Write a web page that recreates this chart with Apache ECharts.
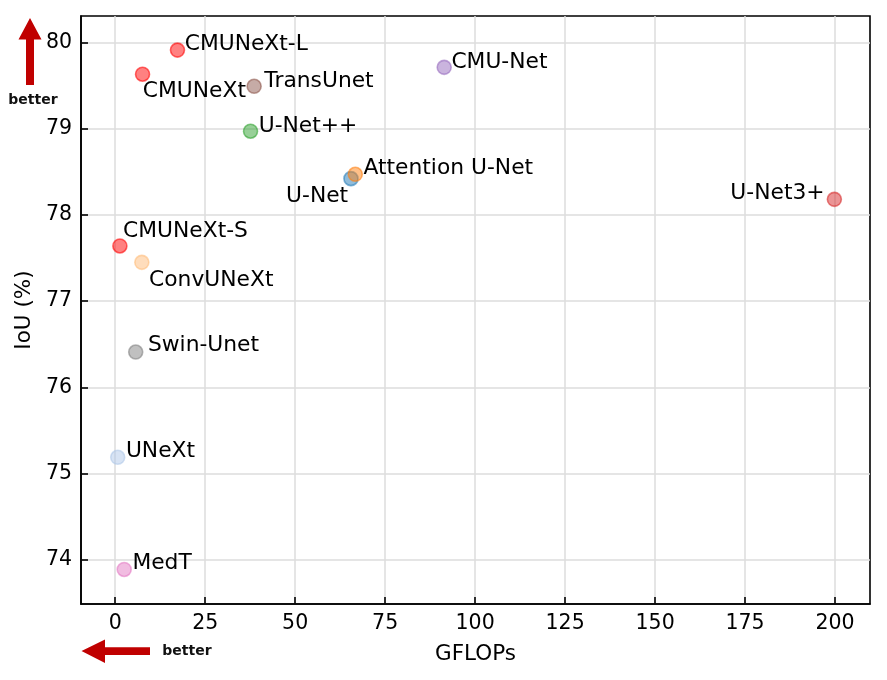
<!DOCTYPE html>
<html>
<head>
<meta charset="utf-8">
<script src="https://cdn.jsdelivr.net/npm/echarts@6/dist/echarts.min.js"></script>
<style>
html,body{margin:0;padding:0;background:#fff;}
#chart{width:887px;height:680px;}
</style>
</head>
<body>
<div id="chart"></div>
<script>
// ---- data ----
const models = ['CMUNeXt-L','CMUNeXt','CMUNeXt-S','TransUnet','U-Net++','CMU-Net','U-Net','Attention U-Net','U-Net3+','ConvUNeXt','Swin-Unet','UNeXt','MedT'];
const gflops = [17.3, 7.6, 1.3, 38.6, 37.6, 91.4, 65.5, 66.7, 199.8, 7.4, 5.7, 0.7, 2.5];
const iou    = [79.91, 79.63, 77.64, 79.49, 78.97, 79.71, 78.42, 78.47, 78.18, 77.45, 76.41, 75.19, 73.89];
const xTicks = [0, 25, 50, 75, 100, 125, 150, 175, 200];
const yTicks = [74, 75, 76, 77, 78, 79, 80];

// ---- styles (kept separate from data) ----
const colors = ['#ff0000','#ff0000','#ff0000','#8c564b','#2ca02c','#9467bd','#1f77b4','#ff7f0e','#d62728','#ffbb78','#7f7f7f','#aec7e8','#e377c2'];
// label offsets: [dx, dy, align] relative to marker centre
const labelOffsets = [
  [8,-4.5,'left'], [1,18,'left'], [4,-14,'left'], [11,-4.5,'left'], [9,-4.5,'left'],
  [8,-4.5,'left'], [-2,18,'right'], [9,-5.5,'left'], [-9,-5.5,'right'], [8,19,'left'],
  [13,-5.5,'left'], [9,-5.5,'left'], [9,-5.5,'left']
];

const FONT = 'DejaVu Sans';
const SYM = 14;

function rgba(hex, a) {
  const n = parseInt(hex.slice(1), 16);
  return 'rgba(' + ((n >> 16) & 255) + ',' + ((n >> 8) & 255) + ',' + (n & 255) + ',' + a + ')';
}

const seriesData = models.map((m, i) => ({
  name: m,
  value: [gflops[i], iou[i]],
  itemStyle: { color: rgba(colors[i], 0.62), borderColor: rgba(colors[i], 0.7), borderWidth: 1.6 },
  label: {
    show: true,
    formatter: m,
    position: [SYM/2 + labelOffsets[i][0], SYM/2 + labelOffsets[i][1]],
    align: labelOffsets[i][2],
    verticalAlign: 'middle',
    color: '#000',
    opacity: 1,
    textBorderWidth: 0,
    textShadowBlur: 0,
    fontFamily: FONT,
    fontSize: 21.8
  }
}));

const chart = echarts.init(document.getElementById('chart'), null, {renderer: 'canvas'});
chart.setOption({
  animation: false,
  backgroundColor: '#fff',
  grid: { left: 81, right: 17, top: 16, bottom: 76, show: true, borderColor: '#000', borderWidth: 1.6, backgroundColor: 'transparent' },
  xAxis: {
    type: 'value', min: -9.5, max: 209.7,
    name: 'GFLOPs', nameLocation: 'middle', nameGap: 39,
    nameTextStyle: { fontFamily: FONT, fontSize: 21.5, color: '#000' },
    axisLine: { show: true, onZero: false, lineStyle: { color: '#000', width: 1.6 } },
    axisTick: { show: true, inside: true, length: 7, lineStyle: { color: '#000', width: 1.6 }, customValues: xTicks },
    axisLabel: { fontFamily: FONT, fontSize: 20.5, color: '#000', margin: 9, customValues: xTicks },
    splitLine: { show: true, lineStyle: { color: '#dcdcdc', width: 1.5 } }
  },
  yAxis: {
    type: 'value', min: 73.49, max: 80.305,
    name: 'IoU (%)', nameLocation: 'middle', nameGap: 46,
    nameTextStyle: { fontFamily: FONT, fontSize: 21.5, color: '#000' },
    axisLine: { show: true, onZero: false, lineStyle: { color: '#000', width: 1.6 } },
    axisTick: { show: true, inside: true, length: 7, lineStyle: { color: '#000', width: 1.6 }, customValues: yTicks },
    axisLabel: { fontFamily: FONT, fontSize: 20.5, color: '#000', margin: 9, customValues: yTicks },
    splitLine: { show: true, lineStyle: { color: '#dcdcdc', width: 1.5 } }
  },
  series: [{
    type: 'scatter',
    symbol: 'circle',
    symbolSize: SYM,
    data: seriesData,
    emphasis: { disabled: true }
  }],
  graphic: [
    { type: 'polygon', silent: true, shape: { points: [[30,18],[41.5,39.5],[34,39.5],[34,85],[26,85],[26,39.5],[18.5,39.5]] }, style: { fill: '#c00000' } },
    { type: 'text', silent: true, style: { text: 'better', x: 33, y: 100.5, align: 'center', verticalAlign: 'middle', font: 'bold 14px "DejaVu Sans"', fill: '#111' } },
    { type: 'polygon', silent: true, shape: { points: [[81.5,651],[105,639.5],[105,647.3],[150,647.3],[150,655],[105,655],[105,663]] }, style: { fill: '#c00000' } },
    { type: 'text', silent: true, style: { text: 'better', x: 187, y: 651, align: 'center', verticalAlign: 'middle', font: 'bold 14px "DejaVu Sans"', fill: '#111' } }
  ]
});
</script>
</body>
</html>
